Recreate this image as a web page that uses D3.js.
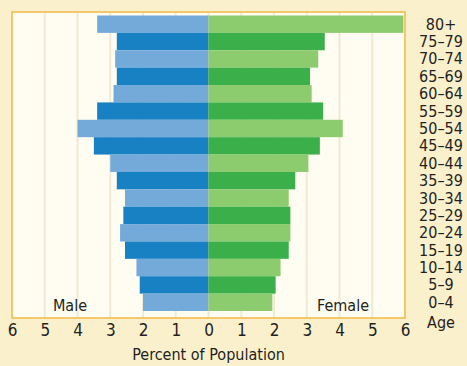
<!DOCTYPE html>
<html>
<head>
<meta charset="utf-8">
<script src="https://cdn.jsdelivr.net/npm/d3@7"></script>
<style>
  html, body { margin: 0; padding: 0; background: #fbf0cc; }
  svg text { font-family: "Liberation Sans Narrow", "DejaVu Sans Condensed", "Open Sans", sans-serif; fill: #231f20; }
</style>
</head>
<body>
<svg id="chart" width="467" height="366"></svg>
<script>
// age groups, top to bottom
const ageGroups = ['80+', '75–79', '70–74', '65–69', '60–64', '55–59', '50–54', '45–49', '40–44',
  '35–39', '30–34', '25–29', '20–24', '15–19', '10–14', '5–9', '0–4'];
const maleValues = [3.4, 2.8, 2.85, 2.8, 2.9, 3.4, 4.0, 3.5, 3.0, 2.8, 2.55, 2.6, 2.7, 2.55, 2.2, 2.1, 2.0];
const femaleValues = [5.95, 3.55, 3.35, 3.1, 3.15, 3.5, 4.1, 3.4, 3.05, 2.65, 2.45, 2.5, 2.5, 2.45, 2.2, 2.05, 1.95];
const tickValues = [-6, -5, -4, -3, -2, -1, 0, 1, 2, 3, 4, 5, 6];

const svg = d3.select('#chart');
const plot = { left: 12, right: 405, top: 12, bottom: 318 };

const x = d3.scaleLinear().domain([-6, 6]).range([plot.left, plot.right]);
const y = d3.scaleBand().domain(ageGroups).range([15.5, 311]).padding(0);

// plot background + faint vertical grid
svg.append('rect')
  .attr('x', plot.left).attr('y', plot.top)
  .attr('width', plot.right - plot.left).attr('height', plot.bottom - plot.top)
  .attr('fill', '#fffdf1');
svg.append('g').selectAll('line').data(tickValues.filter(t => Math.abs(t) < 6)).enter().append('line')
  .attr('x1', d => x(d)).attr('x2', d => x(d))
  .attr('y1', plot.top).attr('y2', plot.bottom)
  .attr('stroke', '#f1ead0').attr('stroke-width', 2);

// bars: light/dark alternate by row
const isLight = (i) => i % 2 === 0;
svg.append('g').selectAll('rect').data(ageGroups).enter().append('rect')
  .attr('x', (d, i) => x(-maleValues[i]))
  .attr('y', d => y(d))
  .attr('width', (d, i) => x(0) - x(-maleValues[i]))
  .attr('height', y.bandwidth())
  .attr('fill', (d, i) => isLight(i) ? '#74aad9' : '#1781c3');
svg.append('g').selectAll('rect').data(ageGroups).enter().append('rect')
  .attr('x', x(0))
  .attr('y', d => y(d))
  .attr('width', (d, i) => x(femaleValues[i]) - x(0))
  .attr('height', y.bandwidth())
  .attr('fill', (d, i) => isLight(i) ? '#8dcc6e' : '#3bb04a');

// frame
svg.append('rect')
  .attr('x', plot.left).attr('y', plot.top)
  .attr('width', plot.right - plot.left).attr('height', plot.bottom - plot.top)
  .attr('fill', 'none').attr('stroke', '#f3c76c').attr('stroke-width', 2);

// x axis (labels only, absolute values)
const xAxis = d3.axisBottom(x).tickValues(tickValues).tickFormat(d => Math.abs(d)).tickSize(0).tickPadding(6);
const gx = svg.append('g').attr('transform', `translate(0,${plot.bottom})`).call(xAxis);
gx.select('.domain').remove();
gx.selectAll('text').style('font-size', '17px').attr('fill', '#231f20');

svg.append('text').attr('x', x(0)).attr('y', 360).attr('text-anchor', 'middle')
  .style('font-size', '16px').text('Percent of Population');
svg.append('text').attr('x', 70).attr('y', 311).attr('text-anchor', 'middle')
  .style('font-size', '16px').text('Male');
svg.append('text').attr('x', 343).attr('y', 311).attr('text-anchor', 'middle')
  .style('font-size', '16px').text('Female');

// age labels on the right
svg.append('g').selectAll('text').data(ageGroups).enter().append('text')
  .attr('x', 441).attr('y', d => y(d) + y.bandwidth() / 2 + 5.5)
  .attr('text-anchor', 'middle').style('font-size', '16px')
  .text(d => d);
svg.append('text').attr('x', 441).attr('y', 328).attr('text-anchor', 'middle')
  .style('font-size', '16px').text('Age');
</script>
</body>
</html>
